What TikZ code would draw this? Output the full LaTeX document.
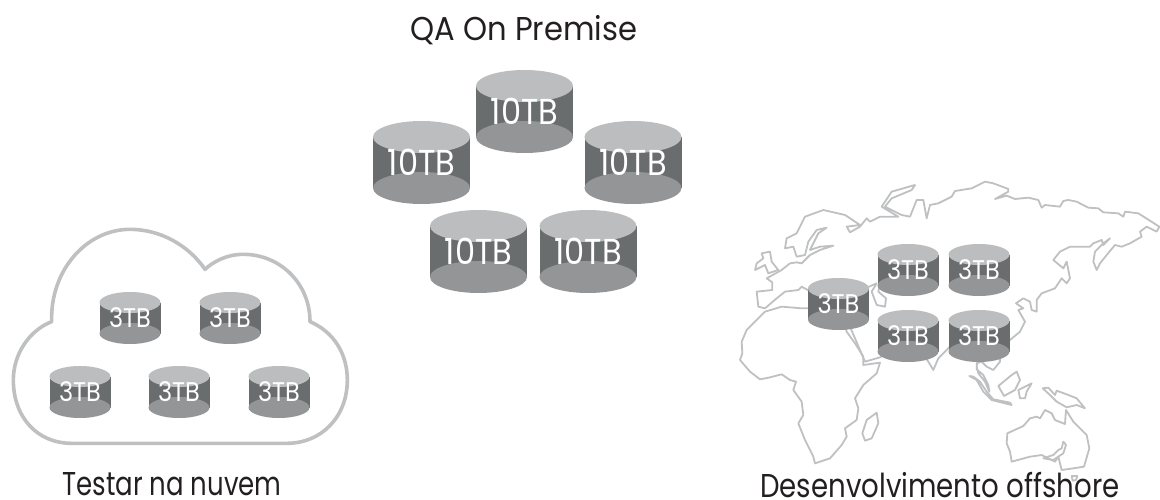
\documentclass[tikz,border=0pt]{standalone}
\usepackage{fontspec}
\setmainfont{Poppins}
\newfontfamily\titlefont[FakeStretch=0.82]{Poppins}
\newfontfamily\diskfont[FakeStretch=0.89]{Poppins}
\usepackage{tikz}
\definecolor{disktop}{HTML}{BCBDBF}
\definecolor{diskbody}{HTML}{6A6D6D}
\definecolor{diskbase}{HTML}{949597}
\definecolor{outline}{HTML}{BFC0C2}
\definecolor{titleink}{HTML}{231F20}
\newcommand{\diskbody}[3]{%
  \fill[diskbody] (-#1,-#2+#3) rectangle (#1,#2-#3);
  \fill[diskbase] (0,#2-#3) ellipse [x radius=#1, y radius=#3];
  \fill[disktop] (0,-#2+#3) ellipse [x radius=#1, y radius=#3];
}
\tikzset{
  biglab/.style={text=white, inner sep=0pt, font=\diskfont\fontsize{36}{36}\selectfont},
  smalllab/.style={text=white, inner sep=0pt, font=\diskfont\fontsize{27}{27}\selectfont},
  title/.style={text=titleink, anchor=base, inner sep=0pt, font=\titlefont\fontsize{33}{33}\selectfont},
  pics/bigdisk/.style={code={\diskbody{48.5}{41.5}{16}\node[biglab] (-lab) {#1};}},
  pics/smalldisk/.style={code={\diskbody{30.5}{26}{10.5}\node[smalllab] (-lab) {#1};}},
  cloudline/.style={draw=outline, line width=3.6pt, line join=round},
  mapline/.style={draw=outline, line width=1.8pt, line join=round, line cap=round}
}
\begin{document}
\begin{tikzpicture}[x=1pt, y=-1pt]
\useasboundingbox (0,0) rectangle (1160,500);

\node[title, xscale=1.13] (qa) at (524,41) {QA On Premise};
\node[title, xscale=0.96] (cloudname) at (172,495) {Testar na nuvem};
\node[title, xscale=1.02] (offshore) at (940,497) {Desenvolvimento offshore};

\pic (qa1) at (524.5,111.5) {bigdisk=10TB};
\pic (qa2) at (421.5,162.5) {bigdisk=10TB};
\pic (qa3) at (633,162.5) {bigdisk=10TB};
\pic (qa4) at (478.5,251.5) {bigdisk=10TB};
\pic (qa5) at (588,251.5) {bigdisk=10TB};

\begin{scope}[shift={(0,220)}, x=1/3*1pt, y=-1/3*1pt]
\draw[cloudline] (615,148) .. controls (640,125) and (680,103) .. (730,103)
  .. controls (840,103) and (930,190) .. (930,305)
  .. controls (1000,335) and (1042,400) .. (1042,480)
  .. controls (1042,590) and (965,670) .. (860,670) -- (215,670)
  .. controls (110,670) and (40,590) .. (40,480)
  .. controls (40,400) and (90,330) .. (155,305)
  .. controls (150,150) and (260,28) .. (390,28)
  .. controls (480,28) and (565,75) .. (615,148) -- cycle;
\end{scope}

\pic (cl1) at (130,318) {smalldisk=3TB};
\pic (cl2) at (230,318) {smalldisk=3TB};
\pic (cl3) at (80,392) {smalldisk=3TB};
\pic (cl4) at (179,392) {smalldisk=3TB};
\pic (cl5) at (279,392) {smalldisk=3TB};

\begin{scope}[shift={(720,170)}, x=1/3*1pt, y=-1/3*1pt]
\draw[mapline] (300,430) -- (263,415) -- (245,415) -- (185,410) -- (135,425) -- (105,455) -- (80,480)
  -- (65,515) -- (67,550) -- (60,570) -- (90,605) -- (120,628) -- (150,622) -- (185,613) -- (210,630)
  -- (228,635) -- (220,660) -- (245,695) -- (250,735) -- (235,760) -- (255,810) -- (280,860) -- (285,880)
  -- (330,865) -- (365,825) -- (380,800) -- (375,775) -- (410,750) -- (415,715) -- (405,685) -- (430,645)
  -- (470,610) -- (480,578) -- (430,585) -- (430,560) -- (405,520) -- (380,485) -- (370,450);
\draw[mapline] (390,470) -- (420,540) -- (435,575) -- (480,562) -- (510,545);
\draw[mapline] (300,380) -- (245,350) -- (235,360) -- (195,365) -- (170,385) -- (135,415) -- (115,410)
  -- (110,365) -- (157,360) -- (157,337) -- (140,325) -- (185,300) -- (210,280) -- (230,277) -- (245,280)
  -- (270,255) -- (300,240) -- (340,227) -- (300,230) -- (270,240) -- (295,190) -- (320,173) -- (290,180)
  -- (265,215) -- (255,255) -- (230,260) -- (220,230) -- (195,235) -- (200,205) -- (230,190) -- (255,140)
  -- (310,120) -- (375,135) -- (420,165) -- (380,170) -- (390,187) -- (420,170) -- (440,145) -- (450,155)
  -- (480,140) -- (535,140) -- (485,110) -- (515,65) -- (585,45) -- (575,60) -- (515,85) -- (495,110)
  -- (545,135) -- (570,140) -- (590,90) -- (610,90) -- (620,145) -- (630,105) -- (655,100) -- (695,80)
  -- (705,63) -- (755,55) -- (795,35) -- (820,40) -- (865,57) -- (865,65) -- (825,87) -- (860,77)
  -- (885,87) -- (925,83) -- (955,90) -- (965,113) -- (975,105) -- (1020,110) -- (1030,93) -- (1045,90)
  -- (1070,95) -- (1105,113) -- (1135,115) -- (1150,127) -- (1195,130) -- (1210,140) -- (1215,125)
  -- (1255,130) -- (1318,170) -- (1310,185) -- (1280,170) -- (1260,185) -- (1265,200) -- (1230,220)
  -- (1205,230) -- (1185,225) -- (1160,255) -- (1140,280) -- (1130,300) -- (1120,275) -- (1125,245)
  -- (1150,220) -- (1170,205) -- (1150,225) -- (1145,210) -- (1120,220) -- (1110,230) -- (1050,230)
  -- (1020,245) -- (1000,270) -- (1030,295) -- (1040,275) -- (1050,325) -- (1040,340) -- (1025,325)
  -- (1005,355) -- (965,370) -- (950,390) -- (950,425) -- (935,420) -- (930,395) -- (910,385) -- (888,400)
  -- (910,415) -- (895,420) -- (915,455) -- (900,485) -- (870,510) -- (840,510);
\draw[mapline] (420,350) -- (447,350) -- (470,340) -- (455,365) -- (470,405) -- (495,410) -- (498,385) -- (475,365) -- (480,340);
\draw[mapline] (125,250) -- (150,245) -- (155,275) -- (175,300) -- (145,310) -- (135,285) -- (105,300)
  -- (110,280) -- (130,265) -- cycle;
\draw[mapline] (600,540) -- (625,575) -- (640,600) -- (655,565) -- (690,530) -- (720,520);
\draw[mapline] (840,550) -- (840,575) -- (820,600) -- (800,590) -- (785,575) -- (770,580) -- (770,598)
  -- (790,615) -- (805,645) -- (808,665) -- (795,635) -- (775,610) -- (770,590) -- (775,560);
\draw[mapline] (748,618) -- (770,630) -- (790,665) -- (815,690) -- (875,705) -- (870,698) -- (820,688)
  -- (800,665) -- (780,635) -- (760,620) -- cycle;
\draw[mapline] (835,648) -- (875,615) -- (890,605) -- (900,630) -- (885,660) -- (852,678) -- cycle;
\draw[mapline] (895,660) -- (935,640) -- (920,665) -- (915,685) -- (900,685) -- cycle;
\draw[mapline] (968,655) -- (985,653) -- (1005,675) -- (1010,662) -- (1045,675) -- (1070,685) -- (1095,715)
  -- (1070,705) -- (1040,712) -- (1010,695) -- (990,675) -- cycle;
\draw[mapline] (862,790) -- (910,768) -- (930,745) -- (950,740) -- (960,745) -- (975,720) -- (995,730)
  -- (1005,750) -- (1035,762) -- (1038,720) -- (1060,755) -- (1100,795) -- (1108,835) -- (1092,890)
  -- (1060,895) -- (1025,900) -- (1015,860) -- (1005,875) -- (965,855) -- (930,860) -- (875,875)
  -- (870,845) -- (860,820) -- cycle;
\draw[mapline] (970,865) -- (1000,855) -- (1015,840) -- (1025,835) -- (1030,815) -- (1038,825) -- (1030,850) -- (1000,870) -- cycle;
\draw[mapline] (470,728) -- (475,760) -- (455,805) -- (435,812) -- (427,790) -- (440,750) -- cycle;
\draw[mapline] (1055,918) -- (1072,918) -- (1068,930) -- (1058,932) -- cycle;
\end{scope}

\pic (of1) at (908,270) {smalldisk=3TB};
\pic (of2) at (979,270) {smalldisk=3TB};
\pic (of3) at (838.5,304) {smalldisk=3TB};
\pic (of4) at (908,336) {smalldisk=3TB};
\pic (of5) at (979,336) {smalldisk=3TB};
\end{tikzpicture}
\end{document}
